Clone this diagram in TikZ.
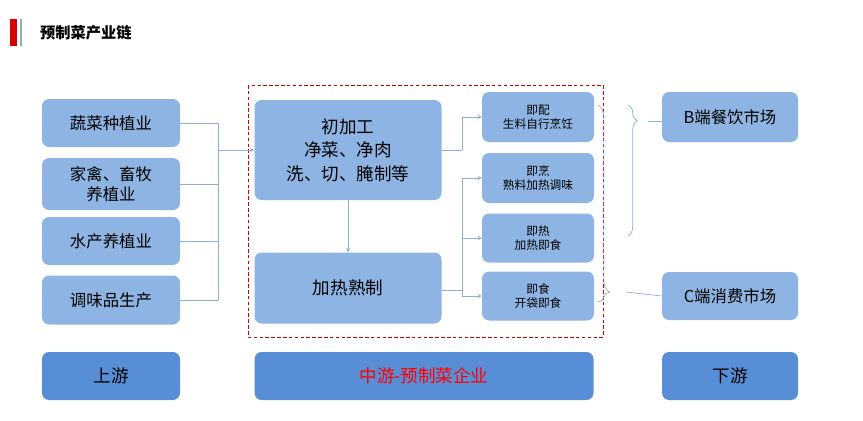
\documentclass[tikz,border=0pt]{standalone}
\usepackage{fontspec}
\newfontfamily\cjk{Noto Sans CJK SC}
\usetikzlibrary{positioning,decorations.pathreplacing}
\definecolor{boxblue}{HTML}{8EB4E3}
\definecolor{darkblue}{HTML}{588ED5}
\definecolor{linkblue}{HTML}{5B8BD0}
\tikzset{
  box/.style={draw=none,fill=boxblue,rounded corners=6pt,align=center,font=\cjk\fontsize{14}{17}\selectfont,inner sep=0pt},
  smallbox/.style={box,font=\cjk\fontsize{10}{12}\selectfont},
  footbox/.style={box,fill=darkblue,font=\cjk\fontsize{15}{18}\selectfont},
  link/.style={draw=linkblue!70,line width=0.6pt},
  arr/.style={link,->,>=stealth},
}
\begin{document}
\begin{tikzpicture}[x=0.03cm,y=-0.03cm]
\useasboundingbox (0,0) rectangle (863,421);
% title
\fill[red!85!black] (10,19) rectangle (17,46);
\fill[gray!70] (20,19) rectangle (22,46);
\node[anchor=west,font=\cjk\bfseries\fontsize{13}{15}\selectfont] (title) at (36,33) {预制菜产业链};

% upstream
\node[box,minimum width=138*0.03cm,minimum height=48*0.03cm] (veg) at (111,123) {蔬菜种植业};
\node[box,minimum width=138*0.03cm,minimum height=52*0.03cm] (poultry) at (111,184) {家禽、畜牧\\养植业};
\node[box,minimum width=138*0.03cm,minimum height=48*0.03cm] (aqua) at (111,241) {水产养植业};
\node[box,minimum width=138*0.03cm,minimum height=49*0.03cm] (season) at (111,300) {调味品生产};

% midstream
\draw[red!80!black,densely dashed,line width=0.5pt] (248,85) rectangle (603,337);
\node[box,minimum width=187*0.03cm,minimum height=100*0.03cm,font=\cjk\fontsize{15}{20}\selectfont] (prim) at (348,150) {初加工\\净菜、净肉\\洗、切、腌制等};
\node[box,minimum width=187*0.03cm,minimum height=71*0.03cm,font=\cjk\fontsize{15}{18}\selectfont] (heat) at (348,288) {加热熟制};
\node[smallbox,minimum width=112*0.03cm,minimum height=50*0.03cm] (pei) at (538,117) {即配\\生料自行烹饪};
\node[smallbox,minimum width=112*0.03cm,minimum height=50*0.03cm] (peng) at (538,178) {即烹\\熟料加热调味};
\node[smallbox,minimum width=112*0.03cm,minimum height=49*0.03cm] (re) at (538,238) {即热\\加热即食};
\node[smallbox,minimum width=112*0.03cm,minimum height=49*0.03cm] (shi) at (538,296) {即食\\开袋即食};

% downstream
\node[box,minimum width=136*0.03cm,minimum height=50*0.03cm] (bmkt) at (730,117) {B端餐饮市场};
\node[box,minimum width=136*0.03cm,minimum height=48*0.03cm] (cmkt) at (730,296) {C端消费市场};

% footer
\node[footbox,minimum width=138*0.03cm,minimum height=48*0.03cm] (up) at (111,376) {上游};
\node[footbox,minimum width=339*0.03cm,minimum height=48*0.03cm,text=red] (mid) at (424,376) {中游-预制菜企业};
\node[footbox,minimum width=136*0.03cm,minimum height=48*0.03cm] (down) at (730,376) {下游};

% connectors
\coordinate (ubus) at (218,150);
\foreach \n in {veg,poultry,aqua,season}
  \draw[link] (\n.east) -- (\n.east -| ubus);
\draw[link] (veg.east -| ubus) -- (season.east -| ubus);
\draw[arr] (ubus) -- (prim.west |- ubus);
\draw[arr] (prim.south) -- (heat.north);
\coordinate (pbus) at (462,150);
\draw[link] (prim.east |- pbus) -- (pbus);
\draw[arr] (pbus) |- (pei.west);
\coordinate (hbus) at (462,290);
\draw[link] (heat.east |- hbus) -- (hbus);
\draw[link] (peng.west -| hbus) -- (shi.west -| hbus);
\foreach \n in {peng,re,shi}
  \draw[arr] (\n.west -| hbus) -- (\n.west);

% braces
\draw[link,decorate,decoration={brace,amplitude=10pt,aspect=0.95}] (598,105) -- (598,302);
\draw[link] (626,292) -- (cmkt.west);
\draw[link,decorate,decoration={brace,amplitude=8pt,aspect=0.12}] (628,105) -- (628,236);
\draw[link] (648,121) -- (bmkt.west |- 0,121);
\end{tikzpicture}
\end{document}
